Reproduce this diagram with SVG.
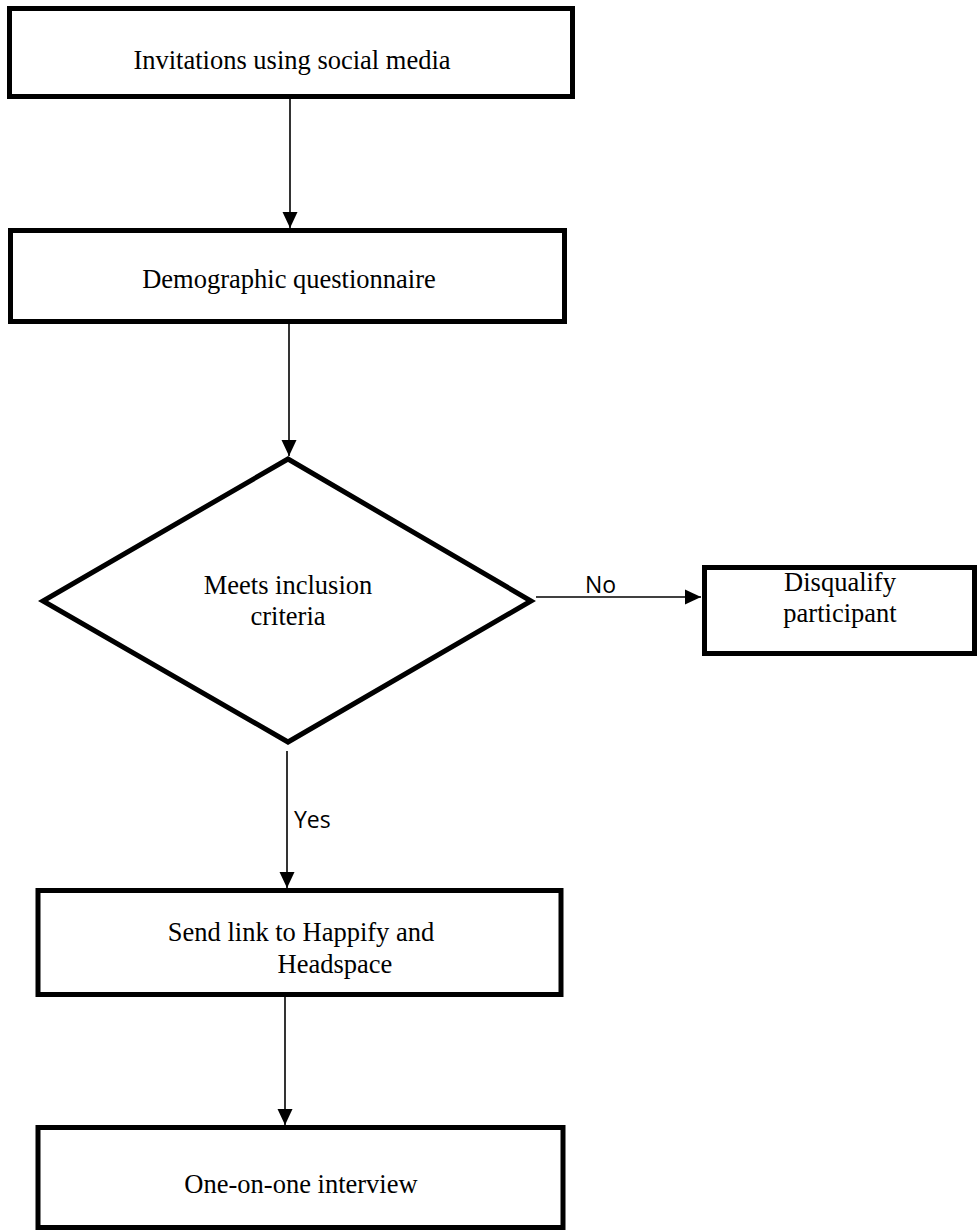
<svg xmlns="http://www.w3.org/2000/svg" width="977" height="1232" viewBox="0 0 977 1232">
<defs>
<style>
.box{fill:#fff;stroke:#000;stroke-width:5}
.t{font-family:"Liberation Serif","Times New Roman",serif;font-size:26.5px;fill:#000;text-anchor:middle}
.lbl{font-family:"Open Sans","Noto Sans",sans-serif;font-size:23px;fill:#000}
.c{stroke:#000;stroke-width:1.6;fill:none;marker-end:url(#ah)}
</style>
<marker id="ah" markerUnits="userSpaceOnUse" markerWidth="16" markerHeight="16" viewBox="0 0 16 16" refX="16" refY="8" orient="auto">
<path d="M0,0.5 L16,8 L0,15.5 Z" fill="#000"/>
</marker>
</defs>
<rect width="977" height="1232" fill="#fff"/>
<g id="connectors">
<line class="c" x1="290" y1="99" x2="290" y2="228"/>
<line class="c" x1="289" y1="324" x2="289" y2="456"/>
<line class="c" x1="536" y1="597" x2="701" y2="597"/>
<line class="c" x1="287" y1="751" x2="287" y2="888"/>
<line class="c" x1="285" y1="997" x2="285" y2="1125"/>
<text class="lbl" x="585" y="593">No</text>
<text class="lbl" x="294" y="828">Yes</text>
</g>
<g id="n1">
<rect class="box" x="9.5" y="8.5" width="563" height="88"/>
<text class="t" x="292" y="69">Invitations using social media</text>
</g>
<g id="n2">
<rect class="box" x="10.5" y="230.5" width="554" height="91"/>
<text class="t" x="289" y="288">Demographic questionnaire</text>
</g>
<g id="n3">
<polygon class="box" points="288,459 531,601 288,742 43,601"/>
<text class="t" x="288" y="594">Meets inclusion</text>
<text class="t" x="288" y="625">criteria</text>
</g>
<g id="n4">
<rect class="box" x="704.5" y="567.5" width="270" height="86"/>
<text class="t" x="840" y="591">Disqualify</text>
<text class="t" x="840" y="622">participant</text>
</g>
<g id="n5">
<rect class="box" x="38" y="890.5" width="523" height="104"/>
<text class="t" x="301" y="941">Send link to Happify and</text>
<text class="t" x="335" y="973">Headspace</text>
</g>
<g id="n6">
<rect class="box" x="38" y="1127.5" width="525" height="100"/>
<text class="t" x="301" y="1193">One-on-one interview</text>
</g>
</svg>
